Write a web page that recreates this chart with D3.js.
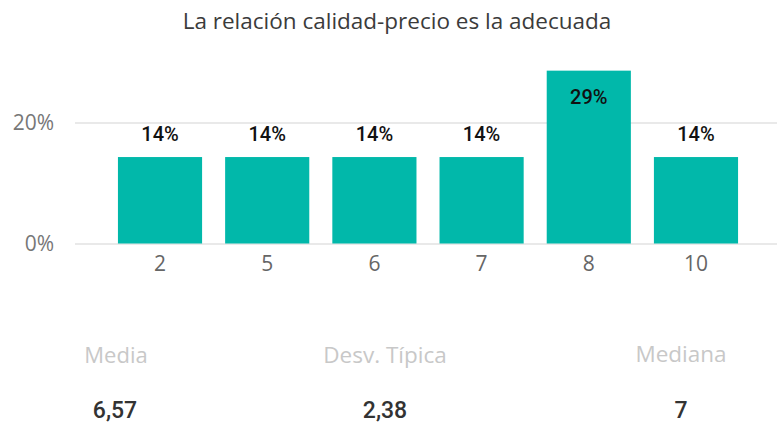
<!DOCTYPE html>
<html>
<head>
<meta charset="utf-8">
<script src="https://cdn.jsdelivr.net/npm/d3@7/dist/d3.min.js"></script>
<style>
  html, body { margin: 0; padding: 0; background: #fff; }
  svg { display: block; }
</style>
</head>
<body>
<svg id="chart" width="777" height="426"></svg>
<script>
const title = "La relación calidad-precio es la adecuada";
const categories = ["2", "5", "6", "7", "8", "10"];
const values = [0.1429, 0.1429, 0.1429, 0.1429, 0.2857, 0.1429];
const valueLabels = ["14%", "14%", "14%", "14%", "29%", "14%"];
const yTicks = [0, 0.2];
const yTickLabels = ["0%", "20%"];
const statNames = ["Media", "Desv. Típica", "Mediana"];
const statValues = ["6,57", "2,38", "7"];

const svg = d3.select("#chart");

const x = d3.scaleBand().domain(categories).range([95, 761]).paddingInner(0.215).paddingOuter(0.214);
const y = d3.scaleLinear().domain([0, 0.3]).range([243.5, 62]);

// title
svg.append("text")
  .attr("x", 397).attr("y", 29)
  .attr("text-anchor", "middle")
  .attr("font-family", "'Open Sans', sans-serif")
  .attr("font-size", 22.5)
  .attr("fill", "#3b3b3b")
  .text(title);

// gridlines
const yAxis = d3.axisLeft(y).tickValues(yTicks).tickSize(-(777 - 75)).tickFormat((d, i) => yTickLabels[i]);
const gY = svg.append("g").attr("transform", "translate(75,0)").call(yAxis);
gY.select(".domain").remove();
gY.selectAll(".tick line").attr("stroke", "#e9e9e9").attr("stroke-width", 2);
gY.selectAll(".tick text")
  .attr("x", -21)
  .attr("font-family", "'Open Sans', sans-serif")
  .attr("font-size", 21)
  .attr("fill", "#777");

// bars
svg.append("g").selectAll("rect").data(values).join("rect")
  .attr("x", (d, i) => x(categories[i]))
  .attr("y", d => y(d))
  .attr("width", x.bandwidth())
  .attr("height", d => y(0) - y(d))
  .attr("fill", "#01B8AA");

// x axis labels
const xAxis = d3.axisBottom(x).tickSize(0).tickPadding(13);
const gX = svg.append("g").attr("transform", `translate(0,${y(0)})`).call(xAxis);
gX.select(".domain").remove();
gX.selectAll(".tick text")
  .attr("font-family", "'Open Sans', sans-serif")
  .attr("font-size", 21)
  .attr("fill", "#666");

// data labels
svg.append("g").selectAll("text").data(values).join("text")
  .attr("x", (d, i) => x(categories[i]) + x.bandwidth() / 2)
  .attr("y", d => d > 0.25 ? y(d) + 33 : y(d) - 16)
  .attr("text-anchor", "middle")
  .attr("font-family", "Roboto, sans-serif")
  .attr("font-weight", 500)
  .attr("font-size", 20)
  .attr("fill", "#111")
  .text((d, i) => valueLabels[i]);

// stats cards
const statX = [116, 385, 681];
const statNameSize = [22, 22.5, 22.5];
svg.append("g").selectAll("text").data(statNames).join("text")
  .attr("x", (d, i) => statX[i])
  .attr("y", (d, i) => i === 2 ? 362 : 363)
  .attr("text-anchor", "middle")
  .attr("font-family", "'Open Sans', sans-serif")
  .attr("font-size", (d, i) => statNameSize[i])
  .attr("fill", "#c8c8c8")
  .text(d => d);

svg.append("g").selectAll("text").data(statValues).join("text")
  .attr("x", (d, i) => i === 0 ? 115 : statX[i])
  .attr("y", 418)
  .attr("text-anchor", "middle")
  .attr("font-family", "Roboto, sans-serif")
  .attr("font-weight", 500)
  .attr("font-size", 23)
  .attr("fill", "#333")
  .text(d => d);
</script>
</body>
</html>
